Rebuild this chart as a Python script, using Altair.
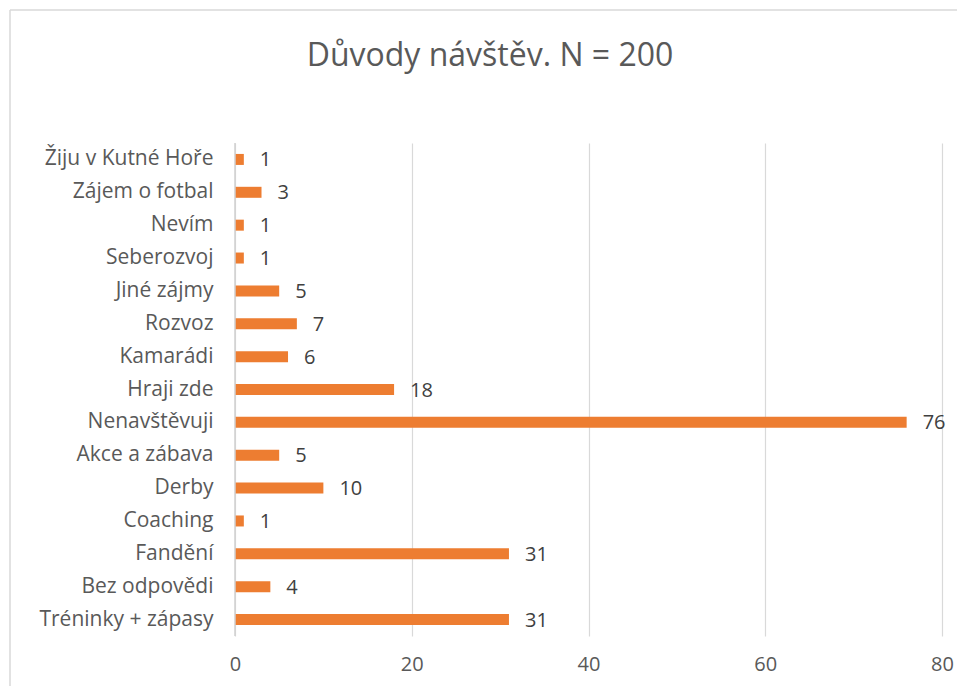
import altair as alt
import pandas as pd

categories = ["Žiju v Kutné Hoře", "Zájem o fotbal", "Nevím", "Seberozvoj", "Jiné zájmy",
              "Rozvoz", "Kamarádi", "Hraji zde", "Nenavštěvuji", "Akce a zábava",
              "Derby", "Coaching", "Fandění", "Bez odpovědi", "Tréninky + zápasy"]
values = [1, 3, 1, 1, 5, 7, 6, 18, 76, 5, 10, 1, 31, 4, 31]
x_ticks = [0, 20, 40, 60, 80]

df = pd.DataFrame({"kategorie": categories, "pocet": values})

FONT = "Open Sans"

base = alt.Chart(df).encode(
    y=alt.Y("kategorie:N", sort=categories,
            scale=alt.Scale(paddingInner=0.66, paddingOuter=0.33),
            axis=alt.Axis(title=None, labelFontSize=21, labelColor="#595959", labelFont=FONT,
                          labelPadding=22, ticks=False, domain=False)),
)

bars = base.mark_bar(color="#ED7D31", size=11).encode(
    x=alt.X("pocet:Q", scale=alt.Scale(domain=[0, 80], nice=False),
            axis=alt.Axis(title=None, values=x_ticks, labelFontSize=20, labelColor="#595959",
                          labelFont=FONT, labelPadding=18, labelFlush=False, ticks=False,
                          domain=False, grid=True, gridColor="#d9d9d9", gridWidth=1.2))
)

labels = base.mark_text(align="left", baseline="middle", dx=16, dy=1, fontSize=20,
                        color="#404040", font=FONT).encode(
    x="pocet:Q", text="pocet:Q"
)

zero_line = alt.Chart(pd.DataFrame({"v": [0]})).mark_rule(color="#d0d0d0", strokeWidth=1.5).encode(
    x="v:Q"
)

border_v = alt.Chart(pd.DataFrame({"v": [0]})).mark_rule(color="#d9d9d9", strokeWidth=1.5).encode(
    x=alt.value(-225), y=alt.value(-133), y2=alt.value(560)
)
border_h = alt.Chart(pd.DataFrame({"v": [0]})).mark_rule(color="#d9d9d9", strokeWidth=1.5).encode(
    x=alt.value(-225), x2=alt.value(740), y=alt.value(-133)
)

title = alt.Chart(pd.DataFrame({"t": ["Důvody návštěv. N = 200"]})).mark_text(
    fontSize=32, color="#595959", font=FONT, align="center", baseline="middle"
).encode(x=alt.value(255), y=alt.value(-87), text="t:N")

chart = alt.layer(border_v, border_h, bars, zero_line, labels, title).properties(
    width=707, height=493,
    autosize=alt.AutoSizeParams(type="none"),
    padding={"left": 235, "top": 143, "right": 15, "bottom": 50},
).configure_view(stroke=None)

chart.save("out.html", embed_options={"renderer": "svg", "actions": False})
